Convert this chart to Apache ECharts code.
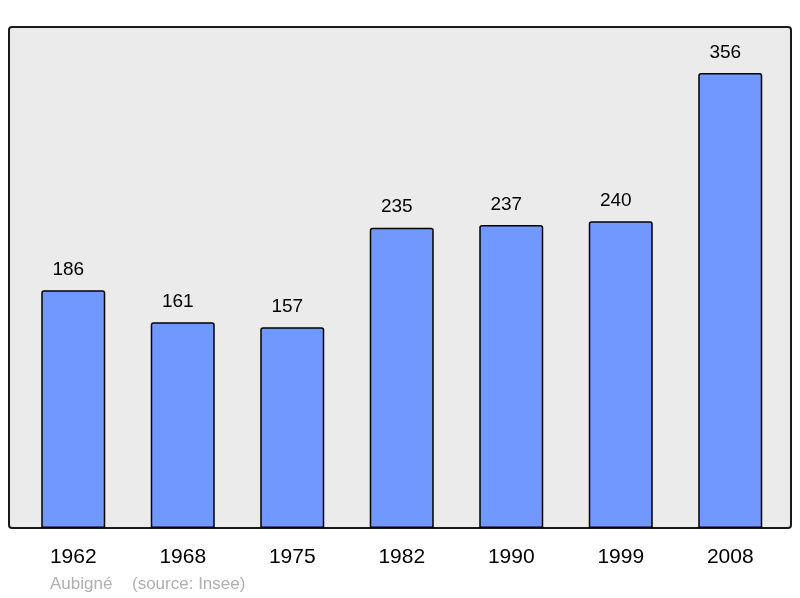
<!DOCTYPE html>
<html><head><meta charset="utf-8">
<script src="https://cdn.jsdelivr.net/npm/echarts@6/dist/echarts.min.js"></script>
<style>html,body{margin:0;padding:0;background:#fff}#c{width:800px;height:598px}</style>
</head><body><div id="c"></div>
<script>
const categories = ['1962','1968','1975','1982','1990','1999','2008'];
const population = [186,161,157,235,237,240,356];
const footerPlace = 'Aubigné';
const footerSource = '(source: Insee)';

const chart = echarts.init(document.getElementById('c'), null, {renderer:'canvas'});
chart.setOption({
  animation:false,
  backgroundColor:'#ffffff',
  graphic:[
    {type:'rect', z:-10, shape:{x:9,y:27,width:782,height:501,r:3},
     style:{fill:'#ebebeb',stroke:'#1a1a1a',lineWidth:2}},
    {type:'text', left:50, top:576, style:{text:footerPlace,fill:'#b0b0b0',font:'17px "Liberation Sans", Arial, sans-serif'}},
    {type:'text', left:132, top:576, style:{text:footerSource,fill:'#b0b0b0',font:'17px "Liberation Sans", Arial, sans-serif'}}
  ],
  grid:{left:18.5, right:15, top:16.8, bottom:70, containLabel:false},
  xAxis:{type:'category', data:categories,
    axisLine:{show:false}, axisTick:{show:false},
    axisLabel:{color:'#000',fontSize:21,fontFamily:'"Liberation Sans", Arial, sans-serif',margin:19}},
  yAxis:{type:'value', min:0, max:400, show:false, splitLine:{show:false}},
  series:[{type:'bar', data:population, barWidth:64,
    itemStyle:{color:'#7098ff',borderColor:'#000',borderWidth:1.5,borderRadius:[2,2,0,0]},
    label:{show:true, position:'top', distance:11, offset:[-5,0], color:'#000', fontSize:19,
      fontFamily:'"Liberation Sans", Arial, sans-serif'}}]
});
</script></body></html>
